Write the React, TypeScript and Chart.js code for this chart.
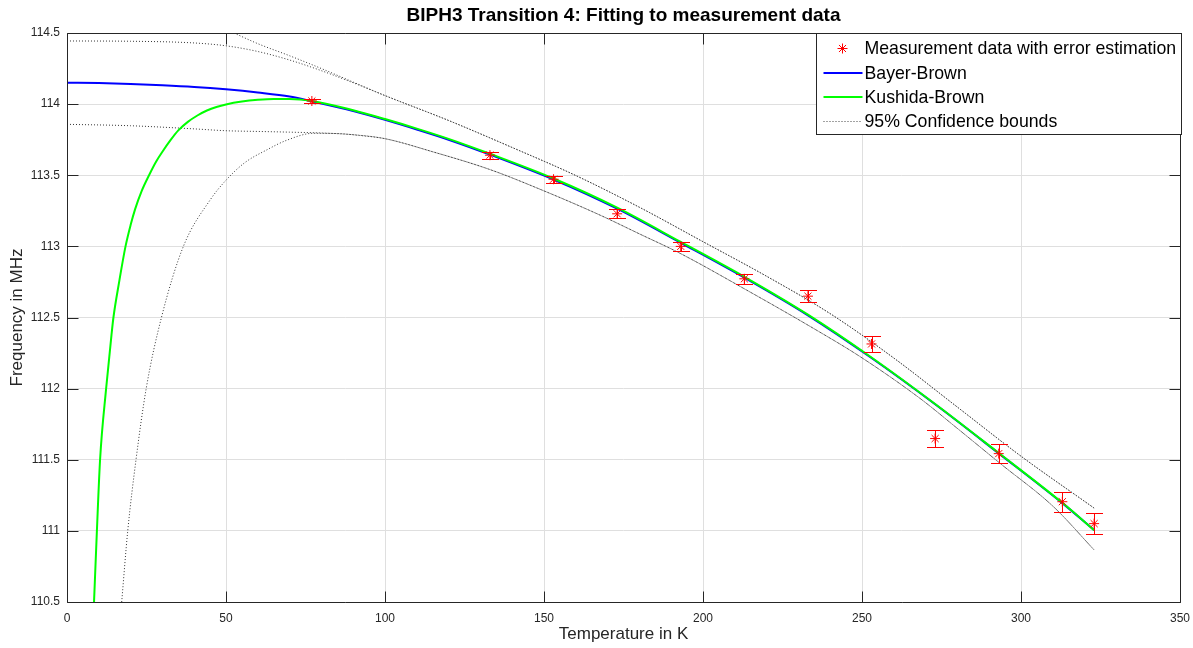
import React, { useEffect, useRef } from 'react';
import { Chart, registerables } from 'chart.js';

Chart.register(...registerables);

const FONT = '"Liberation Sans", Arial, Helvetica, sans-serif';
const AXIS_COLOR = '#262626';
const GRID_COLOR = '#dfdfdf';

// ---- text ----
const titleText = 'BIPH3 Transition 4: Fitting to measurement data';
const xAxisLabel = 'Temperature in K';
const yAxisLabel = 'Frequency in MHz';
const legendLabels = [
  'Measurement data with error estimation',
  'Bayer-Brown',
  'Kushida-Brown',
  '95% Confidence bounds',
];

// ---- ticks ----
const xTicks = [0, 50, 100, 150, 200, 250, 300, 350];
const yTicks = [110.5, 111, 111.5, 112, 112.5, 113, 113.5, 114, 114.5];

// ---- measurement data ----
const measT = [77, 133, 153, 173, 193, 213, 233, 253, 273, 293, 313, 323];
const measF = [114.022, 113.641, 113.472, 113.229, 113.0, 112.772, 112.65, 112.314, 111.649, 111.543, 111.205, 111.051];
const measErr = [0.017, 0.025, 0.026, 0.032, 0.033, 0.035, 0.042, 0.057, 0.061, 0.067, 0.069, 0.074];

// ---- Bayer-Brown fit ----
const bbT = [0, 10, 20, 30, 40, 50, 60, 70, 77, 90, 100, 110, 120, 133, 153, 173, 193, 213, 233, 253, 273, 293, 313, 323];
const bbF = [114.151, 114.148, 114.142, 114.133, 114.121, 114.104, 114.082, 114.054, 114.02, 113.952, 113.89, 113.822, 113.75, 113.645, 113.47, 113.265, 113.025, 112.78, 112.515, 112.215, 111.89, 111.545, 111.195, 111.005];

// ---- Kushida-Brown fit ----
const kbT = [8.5, 9.4, 10.4, 12.3, 14.0, 14.6, 16.4, 18.4, 20, 21.4, 23.5, 25.8, 28, 30, 32.6, 35, 38, 41, 44, 47, 50, 55, 60, 65, 70, 77, 90, 100, 110, 120, 133, 153, 173, 193, 213, 233, 253, 273, 293, 313, 323];
const kbF = [110.5, 111.0, 111.5, 112.0, 112.38, 112.5, 112.75, 113.0, 113.15, 113.26, 113.39, 113.5, 113.595, 113.665, 113.748, 113.815, 113.875, 113.92, 113.955, 113.98, 113.998, 114.018, 114.03, 114.036, 114.036, 114.022, 113.957, 113.895, 113.828, 113.756, 113.651, 113.477, 113.272, 113.031, 112.786, 112.52, 112.219, 111.892, 111.547, 111.197, 111.005];

// ---- 95% confidence bounds ----
// shared upper / lower parts (T >= 100)
const upperSharedT = [100, 120, 140, 160, 180, 200, 220, 240, 260, 280, 300, 323];
const upperSharedF = [114.06, 113.885, 113.695, 113.498, 113.275, 113.033, 112.79, 112.527, 112.215, 111.87, 111.525, 111.16];
const lowerSharedT = [100, 115, 133, 150, 167.6, 180, 192.8, 213.7, 234.7, 249.4, 268.2, 280, 293.4, 310.2, 323];
const lowerSharedF = [113.757, 113.665, 113.54, 113.39, 113.22, 113.088, 112.951, 112.693, 112.424, 112.225, 111.932, 111.72, 111.475, 111.17, 110.866];
// low-temperature parts
const upperBbT = [0, 20, 40, 50, 60, 70, 80, 90];
const upperBbF = [114.444, 114.442, 114.43, 114.41, 114.37, 114.31, 114.235, 114.15];
const lowerBbT = [0, 20, 40, 50, 60, 70, 80, 90];
const lowerBbF = [113.858, 113.848, 113.826, 113.813, 113.808, 113.803, 113.797, 113.785];
const upperKbT = [52.5, 60, 70, 80, 90];
const upperKbF = [114.5, 114.425, 114.34, 114.25, 114.155];
const lowerKbT = [17.2, 19.1, 21.7, 24.9, 29.7, 36.6, 45, 50.2, 56, 62.8, 69.1, 77.5, 85, 92];
const lowerKbF = [110.5, 111.0, 111.5, 112.0, 112.5, 113.0, 113.326, 113.47, 113.59, 113.678, 113.746, 113.795, 113.793, 113.78];

const toPoints = (xs: number[], ys: number[]) => xs.map((x, i) => ({ x, y: ys[i] }));

const errorBarsPlugin = {
  id: 'errorBars',
  afterDatasetsDraw(chart: any) {
    const { ctx, scales } = chart;
    const xs = scales.x;
    const ys = scales.y;
    ctx.save();
    ctx.strokeStyle = '#ff0000';
    ctx.lineWidth = 1;
    for (let i = 0; i < measT.length; i++) {
      const x = Math.round(xs.getPixelForValue(measT[i])) + 0.5;
      const yTop = Math.round(ys.getPixelForValue(measF[i] + measErr[i])) + 0.5;
      const yBot = Math.round(ys.getPixelForValue(measF[i] - measErr[i])) + 0.5;
      ctx.beginPath();
      ctx.moveTo(x, yTop);
      ctx.lineTo(x, yBot);
      ctx.moveTo(x - 8.5, yTop);
      ctx.lineTo(x + 8.5, yTop);
      ctx.moveTo(x - 8.5, yBot);
      ctx.lineTo(x + 8.5, yBot);
      ctx.stroke();
    }
    ctx.restore();
  },
};

const axesBoxPlugin = {
  id: 'axesBox',
  afterDraw(chart: any) {
    const { ctx, chartArea, scales } = chart;
    const l = Math.round(chartArea.left) + 0.5;
    const r = Math.round(chartArea.right) + 0.5;
    const t = Math.round(chartArea.top) + 0.5;
    const b = Math.round(chartArea.bottom) + 0.5;
    const tick = 11;
    ctx.save();
    ctx.strokeStyle = AXIS_COLOR;
    ctx.lineWidth = 1;
    ctx.beginPath();
    ctx.rect(l, t, r - l, b - t);
    for (const v of xTicks) {
      const x = Math.round(scales.x.getPixelForValue(v)) + 0.5;
      ctx.moveTo(x, b);
      ctx.lineTo(x, b - tick);
      ctx.moveTo(x, t);
      ctx.lineTo(x, t + tick);
    }
    for (const v of yTicks) {
      const y = Math.round(scales.y.getPixelForValue(v)) + 0.5;
      ctx.moveTo(l, y);
      ctx.lineTo(l + tick, y);
      ctx.moveTo(r, y);
      ctx.lineTo(r - tick, y);
    }
    ctx.stroke();

    // legend box
    const w = 365;
    const h = 101;
    const lx = r - w + 1;
    const ly = t;
    ctx.fillStyle = '#ffffff';
    ctx.fillRect(lx, ly, w, h);
    ctx.strokeRect(lx, ly, w, h);
    const rows = [15, 39.5, 63.5, 87.5];
    const textX = lx + 48;
    ctx.font = `17.7px ${FONT}`;
    ctx.textBaseline = 'middle';
    ctx.textAlign = 'left';
    {
      const cx = lx + 26;
      const cy = ly + rows[0];
      const rad = 5;
      ctx.strokeStyle = '#ff0000';
      ctx.beginPath();
      for (let k = 0; k < 4; k++) {
        const a = (k * Math.PI) / 4;
        ctx.moveTo(cx - rad * Math.cos(a), cy - rad * Math.sin(a));
        ctx.lineTo(cx + rad * Math.cos(a), cy + rad * Math.sin(a));
      }
      ctx.stroke();
    }
    const lineStyles = [
      null,
      { color: '#0000ff', width: 2, dash: [] as number[] },
      { color: '#00ff00', width: 2, dash: [] as number[] },
      { color: '#444444', width: 1, dash: [1, 2] },
    ];
    for (let k = 1; k < 4; k++) {
      const s = lineStyles[k]!;
      const y = Math.round(ly + rows[k]) + (s.width === 1 ? 0.5 : 0);
      ctx.strokeStyle = s.color;
      ctx.lineWidth = s.width;
      ctx.setLineDash(s.dash);
      ctx.beginPath();
      ctx.moveTo(lx + 7, y);
      ctx.lineTo(lx + 46, y);
      ctx.stroke();
      ctx.setLineDash([]);
    }
    ctx.fillStyle = '#000000';
    for (let k = 0; k < 4; k++) {
      ctx.fillText(legendLabels[k], textX, ly + rows[k] + 1);
    }
    ctx.restore();
  },
};

const boundStyle = {
  showLine: true,
  pointRadius: 0,
  borderColor: '#333333',
  borderWidth: 1,
  borderDash: [1, 2],
  cubicInterpolationMode: 'monotone' as const,
  fill: false,
};

export default function App() {
  const canvasRef = useRef<HTMLCanvasElement | null>(null);

  useEffect(() => {
    const canvas = canvasRef.current;
    if (!canvas) return;
    const chart = new Chart(canvas, {
      type: 'scatter',
      data: {
        datasets: [
          {
            label: legendLabels[0],
            data: toPoints(measT, measF),
            showLine: false,
            pointStyle: 'star',
            pointRadius: 5,
            pointBorderColor: '#ff0000',
            pointBackgroundColor: '#ff0000',
            pointBorderWidth: 1,
          },
          {
            label: legendLabels[2],
            data: toPoints(kbT, kbF),
            showLine: true,
            pointRadius: 0,
            borderColor: '#00ff00',
            borderWidth: 2,
            cubicInterpolationMode: 'monotone',
          },
          {
            label: legendLabels[1],
            data: toPoints(bbT, bbF),
            showLine: true,
            pointRadius: 0,
            borderColor: '#0000ff',
            borderWidth: 2,
            cubicInterpolationMode: 'monotone',
          },
          {
            label: legendLabels[3],
            data: toPoints(upperBbT.concat(upperSharedT), upperBbF.concat(upperSharedF)),
            ...boundStyle,
          },
          {
            label: legendLabels[3],
            data: toPoints(lowerBbT.concat(lowerSharedT), lowerBbF.concat(lowerSharedF)),
            ...boundStyle,
          },
          {
            label: legendLabels[3],
            data: toPoints(upperKbT.concat(upperSharedT), upperKbF.concat(upperSharedF)),
            ...boundStyle,
          },
          {
            label: legendLabels[3],
            data: toPoints(lowerKbT.concat(lowerSharedT), lowerKbF.concat(lowerSharedF)),
            ...boundStyle,
          },
        ],
      },
      options: {
        animation: false,
        responsive: false,
        maintainAspectRatio: false,
        devicePixelRatio: 1,
        layout: { padding: { left: 0, right: 13, top: 0, bottom: 0 } },
        plugins: {
          legend: { display: false },
          tooltip: { enabled: false },
          title: {
            display: true,
            text: titleText,
            fullSize: false,
            color: '#000000',
            font: { family: FONT, size: 19, weight: 'bold' },
            padding: { top: 4.5, bottom: 5.7 },
          },
        },
        scales: {
          x: {
            type: 'linear',
            min: 0,
            max: 350,
            afterBuildTicks: (scale: any) => {
              scale.ticks = xTicks.map((v) => ({ value: v }));
            },
            afterFit: (scale: any) => {
              scale.height = 46;
              scale.paddingLeft = 0;
              scale.paddingRight = 0;
            },
            grid: { color: GRID_COLOR, drawTicks: false, lineWidth: 1 },
            border: { display: false },
            ticks: {
              color: AXIS_COLOR,
              font: { family: FONT, size: 12 },
              padding: 9,
              maxRotation: 0,
              callback: (v: any) => String(v),
            },
            title: {
              display: true,
              text: xAxisLabel,
              color: AXIS_COLOR,
              font: { family: FONT, size: 17 },
              padding: { top: 0, bottom: 3 },
            },
          },
          y: {
            type: 'linear',
            min: 110.5,
            max: 114.5,
            afterBuildTicks: (scale: any) => {
              scale.ticks = yTicks.map((v) => ({ value: v }));
            },
            afterFit: (scale: any) => {
              scale.width = 67;
              scale.paddingTop = 0;
              scale.paddingBottom = 0;
            },
            grid: { color: GRID_COLOR, drawTicks: false, lineWidth: 1 },
            border: { display: false },
            ticks: {
              color: AXIS_COLOR,
              font: { family: FONT, size: 12 },
              padding: 7,
              callback: (v: any) => String(v),
            },
            title: {
              display: true,
              text: yAxisLabel,
              color: AXIS_COLOR,
              font: { family: FONT, size: 17 },
              padding: { top: 7, bottom: 0 },
            },
          },
        },
      },
      plugins: [errorBarsPlugin, axesBoxPlugin],
    });
    return () => chart.destroy();
  }, []);

  return (
    <div style={{ position: 'absolute', left: 0, top: 0, width: 1193, height: 648, background: '#ffffff' }}>
      <canvas ref={canvasRef} width={1193} height={648} style={{ display: 'block', width: 1193, height: 648 }} />
    </div>
  );
}
